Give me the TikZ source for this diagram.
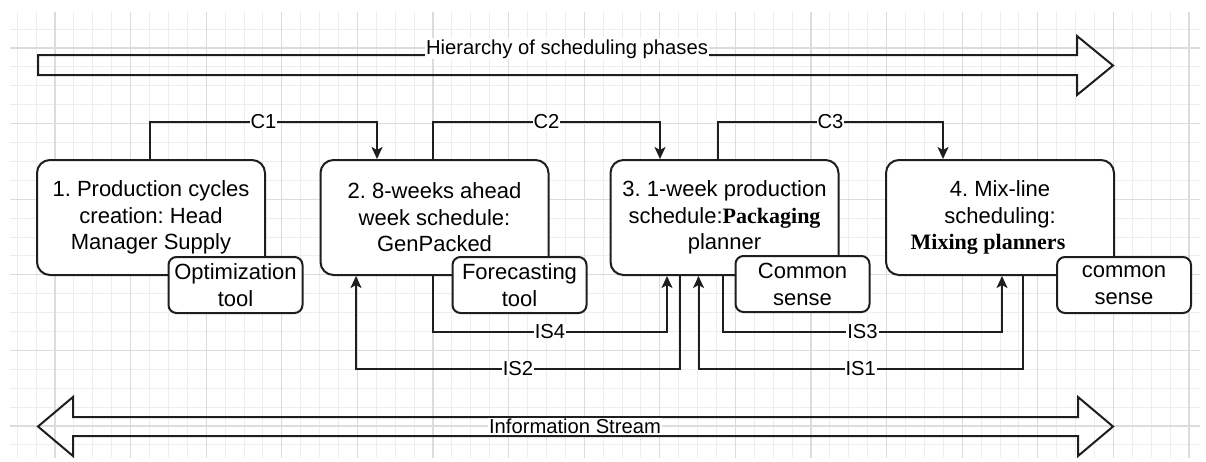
\documentclass[tikz,border=0pt]{standalone}
\usepackage{fontspec}
\setmainfont{Liberation Sans}
\newfontfamily\pastefont{Liberation Serif}
\usetikzlibrary{arrows.meta}
\frenchspacing

\definecolor{gridminor}{HTML}{EDEDED}
\definecolor{gridmajor}{HTML}{DCDCDC}
\definecolor{ink}{HTML}{1E1E1E}

\tikzset{
    phase/.style={draw=ink, line width=2pt, rounded corners=13pt, fill=white,
        minimum width=228pt, minimum height=115pt, inner sep=0pt, align=center,
        font=\fontsize{22}{26.5}\selectfont},
    tool/.style={draw=ink, line width=2pt, rounded corners=8pt, fill=white,
        minimum width=134pt, minimum height=56pt, inner sep=0pt, align=center,
        font=\fontsize{22}{27}\selectfont},
    link/.style={draw=ink, line width=2pt, -{Stealth[length=12pt,width=11pt,inset=3pt]}},
    tag/.style={fill=white, inner sep=1pt, font=\fontsize{20.2}{24}\selectfont},
    bigarrow/.style={draw=ink, line width=2pt},
    minor line/.style={draw=gridminor, line width=1pt},
    major line/.style={draw=gridmajor, line width=1.2pt}
}

\begin{document}
\begin{tikzpicture}[x=1pt,y=-1pt]
    \useasboundingbox (0,0) rectangle (1206,461);

    % background grid
    \foreach \k in {1,...,63}
        \draw[minor line] (-1.7+18.9*\k,12) -- (-1.7+18.9*\k,458);
    \foreach \k in {1,...,23}
        \draw[minor line] (10,10.2+18.9*\k) -- (1200,10.2+18.9*\k);
    \foreach \k in {3,7,...,63}
        \draw[major line] (-1.7+18.9*\k,12) -- (-1.7+18.9*\k,458);
    \foreach \k in {2,6,...,22}
        \draw[major line] (10,10.2+18.9*\k) -- (1200,10.2+18.9*\k);

    % phases
    \node(b1)[phase] at (151,217.5) {1. Production cycles\\creation: Head\\Manager Supply};
    \node(b2)[phase] at (434.5,217.5) {2. 8-weeks ahead\\week schedule:\\GenPacked};
    \node(b3)[phase] at (724.5,217.5) {3. 1-week production\\schedule:{\pastefont\bfseries Packaging}\\planner};
    \node(b4)[phase] at (1000,217.5) {4. Mix-line\\scheduling:\hspace*{40pt}\\{\pastefont\bfseries Mixing planners}\hspace*{24pt}};

    % tools
    \node(t1)[tool] at (235.5,285) {Optimization\\tool};
    \node(t2)[tool] at (519.5,285) {Forecasting\\tool};
    \node(t3)[tool] at (802.5,284) {Common\\sense};
    \node(t4)[tool] at (1124,285) {common\\sense};

    % control flow
    \draw[link] ([xshift=-1pt]b1.north) -- ++(0,-37) -| node[tag,pos=0.25]{C1} ([xshift=-57.5pt]b2.north);
    \draw[link] ([xshift=-1.5pt]b2.north) -- ++(0,-37) -| node[tag,pos=0.25]{C2} ([xshift=-64.5pt]b3.north);
    \draw[link] ([xshift=-6.5pt]b3.north) -- ++(0,-37) -| node[tag,pos=0.25]{C3} ([xshift=-57pt]b4.north);

    % information streams
    \draw[link] ([xshift=-1.5pt]b2.south) -- ++(0,56) -| node[tag,pos=0.25]{IS4} ([xshift=-57.5pt]b3.south);
    \draw[link] ([xshift=-44.5pt]b3.south) -- ++(0,93) -| node[tag,pos=0.25]{IS2} ([xshift=-78.5pt]b2.south);
    \draw[link] ([xshift=-1.5pt]b3.south) -- ++(0,56) -| node[tag,pos=0.25]{IS3} ([xshift=2pt]b4.south);
    \draw[link] ([xshift=23pt]b4.south) -- ++(0,93) -| node[tag,pos=0.25]{IS1} ([xshift=-26pt]b3.south);

    % big arrows
    \draw[bigarrow] (38,55) -- (1077,55) -- (1077,36) -- (1113,65.5) -- (1077,95) -- (1077,75) -- (38,75) -- cycle;
    \draw[bigarrow] (38,426.5) -- (73,397) -- (73,417) -- (1078,417) -- (1078,397) -- (1113,426.5)
        -- (1078,456) -- (1078,436) -- (73,436) -- (73,456) -- cycle;
    \node(hier)[tag,anchor=base] at (567,54) {Hierarchy of scheduling phases};
    \node(info)[tag] at (575,426.5) {Information Stream};
\end{tikzpicture}
\end{document}
